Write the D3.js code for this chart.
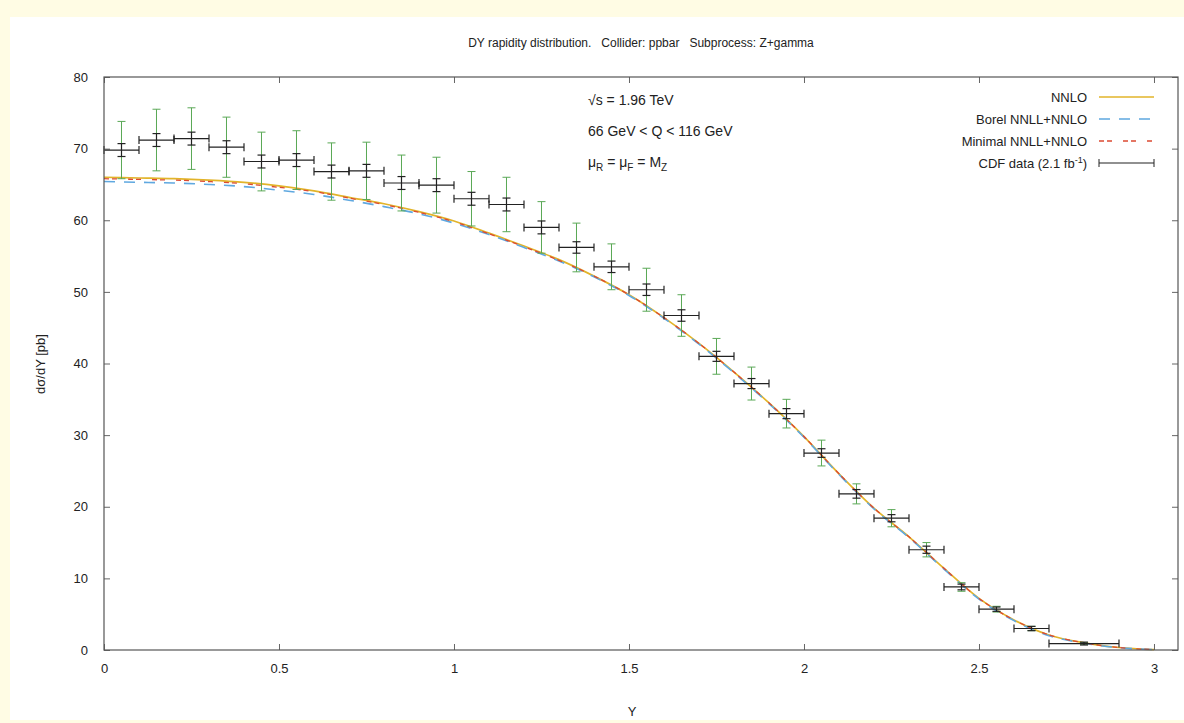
<!DOCTYPE html>
<html>
<head>
<meta charset="utf-8">
<script src="https://cdn.jsdelivr.net/npm/d3@7"></script>
<style>
body { margin: 0; background: #fffce4; }
svg text { font-family: "Liberation Sans", Arial, sans-serif; fill: #222; white-space: pre; }
</style>
</head>
<body>
<script>
var width = 1184;
var height = 723;

// plot box
var boxLeft = 104, boxRight = 1178, boxTop = 77, boxBottom = 650;

// theory curves, sampled every 0.1 in Y
var curveY = [0, 0.1, 0.2, 0.3, 0.4, 0.5, 0.6, 0.7, 0.8, 0.9, 1.0, 1.1, 1.2, 1.3, 1.4, 1.5,
              1.6, 1.7, 1.8, 1.9, 2.0, 2.1, 2.2, 2.3, 2.4, 2.5, 2.6, 2.7, 2.8, 2.9, 3.0];
var nnlo    = [66.0, 65.9, 65.8, 65.6, 65.3, 64.8, 64.1, 63.2, 62.3, 61.2, 59.9, 58.2, 56.4, 54.5, 52.2, 49.6,
               46.4, 42.8, 38.8, 34.5, 29.8, 24.6, 19.8, 15.8, 11.4, 7.2, 4.2, 2.1, 1.0, 0.35, 0.05];
var borel   = [65.4, 65.3, 65.2, 65.0, 64.7, 64.2, 63.6, 62.8, 61.9, 60.9, 59.6, 58.0, 56.2, 54.3, 52.1, 49.5,
               46.3, 42.7, 38.7, 34.4, 29.7, 24.5, 19.7, 15.7, 11.3, 7.1, 4.1, 2.0, 0.95, 0.33, 0.05];
var minimal = [65.8, 65.7, 65.6, 65.4, 65.1, 64.6, 64.0, 63.1, 62.2, 61.1, 59.8, 58.1, 56.3, 54.4, 52.2, 49.6,
               46.4, 42.8, 38.8, 34.5, 29.8, 24.6, 19.8, 15.8, 11.4, 7.2, 4.2, 2.1, 1.0, 0.35, 0.05];

// CDF data
var binLo  = [0.0, 0.1, 0.2, 0.3, 0.4, 0.5, 0.6, 0.7, 0.8, 0.9, 1.0, 1.1, 1.2, 1.3, 1.4,
              1.5, 1.6, 1.7, 1.8, 1.9, 2.0, 2.1, 2.2, 2.3, 2.4, 2.5, 2.6, 2.7];
var binHi  = [0.1, 0.2, 0.3, 0.4, 0.5, 0.6, 0.7, 0.8, 0.9, 1.0, 1.1, 1.2, 1.3, 1.4, 1.5,
              1.6, 1.7, 1.8, 1.9, 2.0, 2.1, 2.2, 2.3, 2.4, 2.5, 2.6, 2.7, 2.9];
var cdf    = [69.8, 71.2, 71.4, 70.2, 68.2, 68.4, 66.8, 66.9, 65.2, 64.9, 63.0, 62.2, 59.0, 56.2, 53.5,
              50.3, 46.7, 41.0, 37.2, 33.0, 27.5, 21.8, 18.4, 14.0, 8.8, 5.7, 3.0, 0.9];
var statErr = [0.9, 0.9, 0.9, 0.9, 0.9, 0.9, 0.9, 0.9, 0.9, 0.9, 0.9, 0.9, 0.9, 0.8, 0.8,
               0.8, 0.8, 0.7, 0.7, 0.7, 0.6, 0.6, 0.5, 0.5, 0.4, 0.3, 0.3, 0.2];
var totErr  = [4.0, 4.3, 4.3, 4.2, 4.1, 4.1, 4.0, 4.0, 3.9, 3.9, 3.8, 3.8, 3.6, 3.4, 3.2,
               3.0, 2.9, 2.5, 2.3, 2.0, 1.8, 1.4, 1.2, 1.0, 0.6, 0.4, 0.3, 0.1];

var xTicks = [0, 0.5, 1, 1.5, 2, 2.5, 3];
var yTicks = [0, 10, 20, 30, 40, 50, 60, 70, 80];

var svg = d3.select("body").append("svg")
    .attr("width", width)
    .attr("height", height);

// white page on the pale yellow frame
svg.append("rect")
    .attr("x", 10).attr("y", 17)
    .attr("width", width - 10).attr("height", height - 20)
    .attr("fill", "#fff");

var xScale = d3.scaleLinear().domain([0, 3.0686]).range([boxLeft, boxRight]);
var yScale = d3.scaleLinear().domain([0, 80]).range([boxBottom, boxTop]);

// axes, gnuplot style: inward ticks, mirrored
var xAxis = d3.axisBottom(xScale).tickValues(xTicks).tickFormat(d3.format("~g"))
    .tickSizeInner(-6).tickSizeOuter(0).tickPadding(14);
var yAxis = d3.axisLeft(yScale).tickValues(yTicks)
    .tickSizeInner(-6).tickSizeOuter(0).tickPadding(16);
var xTop = d3.axisTop(xScale).tickValues(xTicks).tickSizeInner(-6).tickSizeOuter(0).tickFormat("");
var yRight = d3.axisRight(yScale).tickValues(yTicks).tickSizeInner(-6).tickSizeOuter(0).tickFormat("");

function styleAxis(g) {
  g.select(".domain").remove();
  g.selectAll(".tick line").attr("stroke", "#666");
  g.selectAll(".tick text")
    .attr("font-size", "13px")
    .attr("fill", "#222")
    .attr("font-family", "Liberation Sans, Arial, sans-serif");
}

svg.append("g").attr("transform", "translate(0," + boxBottom + ")").call(xAxis).call(styleAxis);
svg.append("g").attr("transform", "translate(" + boxLeft + ",0)").call(yAxis).call(styleAxis);
svg.append("g").attr("transform", "translate(0," + boxTop + ")").call(xTop).call(styleAxis);
svg.append("g").attr("transform", "translate(" + boxRight + ",0)").call(yRight).call(styleAxis);

// curves
var line = d3.line()
    .x(function(d) { return xScale(d[0]); })
    .y(function(d) { return yScale(d[1]); })
    .curve(d3.curveMonotoneX);

function pairs(vals) {
  return curveY.map(function(y, i) { return [y, vals[i]]; });
}

svg.append("path").datum(pairs(nnlo))
    .attr("d", line).attr("fill", "none")
    .attr("stroke", "#e2b42a").attr("stroke-width", 1.7);
svg.append("path").datum(pairs(borel))
    .attr("d", line).attr("fill", "none")
    .attr("stroke", "#5fa8e0").attr("stroke-width", 1.6)
    .attr("stroke-dasharray", "11,9");
svg.append("path").datum(pairs(minimal))
    .attr("d", line).attr("fill", "none")
    .attr("stroke", "#dc4a32").attr("stroke-width", 1.3)
    .attr("stroke-dasharray", "5,3,5,11");

// data points
var pts = cdf.map(function(v, i) {
  return { lo: binLo[i], hi: binHi[i], v: v, s: statErr[i], t: totErr[i] };
});

var gData = svg.append("g");
var cap = 4;

// total error (green)
pts.forEach(function(d) {
  var xc = xScale((d.lo + d.hi) / 2);
  var g = gData.append("g").attr("stroke", "#5aa856").attr("stroke-width", 1);
  g.append("line").attr("x1", xc).attr("x2", xc)
      .attr("y1", yScale(d.v - d.t)).attr("y2", yScale(d.v + d.t));
  g.append("line").attr("x1", xc - cap).attr("x2", xc + cap)
      .attr("y1", yScale(d.v - d.t)).attr("y2", yScale(d.v - d.t));
  g.append("line").attr("x1", xc - cap).attr("x2", xc + cap)
      .attr("y1", yScale(d.v + d.t)).attr("y2", yScale(d.v + d.t));
});

// bin width and stat error (black)
pts.forEach(function(d) {
  var xc = xScale((d.lo + d.hi) / 2);
  var yc = yScale(d.v);
  var g = gData.append("g").attr("stroke", "#222").attr("stroke-width", 1.2);
  g.append("line").attr("x1", xScale(d.lo)).attr("x2", xScale(d.hi)).attr("y1", yc).attr("y2", yc);
  g.append("line").attr("x1", xScale(d.lo)).attr("x2", xScale(d.lo)).attr("y1", yc - cap).attr("y2", yc + cap);
  g.append("line").attr("x1", xScale(d.hi)).attr("x2", xScale(d.hi)).attr("y1", yc - cap).attr("y2", yc + cap);
  g.append("line").attr("x1", xc).attr("x2", xc).attr("y1", yScale(d.v - d.s)).attr("y2", yScale(d.v + d.s));
  g.append("line").attr("x1", xc - cap).attr("x2", xc + cap).attr("y1", yScale(d.v - d.s)).attr("y2", yScale(d.v - d.s));
  g.append("line").attr("x1", xc - cap).attr("x2", xc + cap).attr("y1", yScale(d.v + d.s)).attr("y2", yScale(d.v + d.s));
});

// plot border
svg.append("rect")
    .attr("x", boxLeft).attr("y", boxTop)
    .attr("width", boxRight - boxLeft).attr("height", boxBottom - boxTop)
    .attr("fill", "none").attr("stroke", "#555").attr("stroke-width", 1.2);

// title and axis labels
svg.append("text")
    .attr("x", 641).attr("y", 47)
    .attr("text-anchor", "middle").attr("font-size", "12px")
    .text("DY rapidity distribution.   Collider: ppbar   Subprocess: Z+gamma");

svg.append("text")
    .attr("x", 632).attr("y", 716)
    .attr("text-anchor", "middle").attr("font-size", "13px")
    .text("Y");

svg.append("text")
    .attr("transform", "translate(45,364) rotate(-90)")
    .attr("text-anchor", "middle").attr("font-size", "13px")
    .text("dσ/dY [pb]");

// annotations
var ann = svg.append("g").attr("font-size", "14px");
ann.append("text").attr("x", 588).attr("y", 105).text("√s = 1.96 TeV");
ann.append("text").attr("x", 588).attr("y", 136).text("66 GeV < Q < 116 GeV");
var mu = ann.append("text").attr("x", 588).attr("y", 167);
mu.append("tspan").text("μ");
mu.append("tspan").attr("dy", 4).attr("font-size", "10px").text("R");
mu.append("tspan").attr("dy", -4).text(" = μ");
mu.append("tspan").attr("dy", 4).attr("font-size", "10px").text("F");
mu.append("tspan").attr("dy", -4).text(" = M");
mu.append("tspan").attr("dy", 4).attr("font-size", "10px").text("Z");

// legend
var legendNames = ["NNLO", "Borel NNLL+NNLO", "Minimal NNLL+NNLO", "CDF data"];
var legendColors = ["#e2b42a", "#5fa8e0", "#dc4a32", "#222"];
var legendDash = [null, "11,9", "5,3,5,11", null];
var lx1 = 1099, lx2 = 1154;

legendNames.forEach(function(name, i) {
  var ly = 97 + i * 22;
  var t = svg.append("text")
      .attr("x", 1087).attr("y", ly + 5)
      .attr("text-anchor", "end").attr("font-size", "13px");
  if (i === 3) {
    t.append("tspan").text("CDF data (2.1 fb");
    t.append("tspan").attr("dy", -5).attr("font-size", "9px").text("-1");
    t.append("tspan").attr("dy", 5).text(")");
  } else {
    t.text(name);
  }
  var l = svg.append("line")
      .attr("x1", lx1).attr("x2", lx2).attr("y1", ly).attr("y2", ly)
      .attr("stroke", legendColors[i]).attr("stroke-width", i === 3 ? 1.1 : 1.6);
  if (legendDash[i]) l.attr("stroke-dasharray", legendDash[i]);
  if (i === 3) {
    svg.append("line").attr("x1", lx1).attr("x2", lx1).attr("y1", ly - 4).attr("y2", ly + 4).attr("stroke", "#222");
    svg.append("line").attr("x1", lx2).attr("x2", lx2).attr("y1", ly - 4).attr("y2", ly + 4).attr("stroke", "#222");
  }
});
</script>
</body>
</html>
